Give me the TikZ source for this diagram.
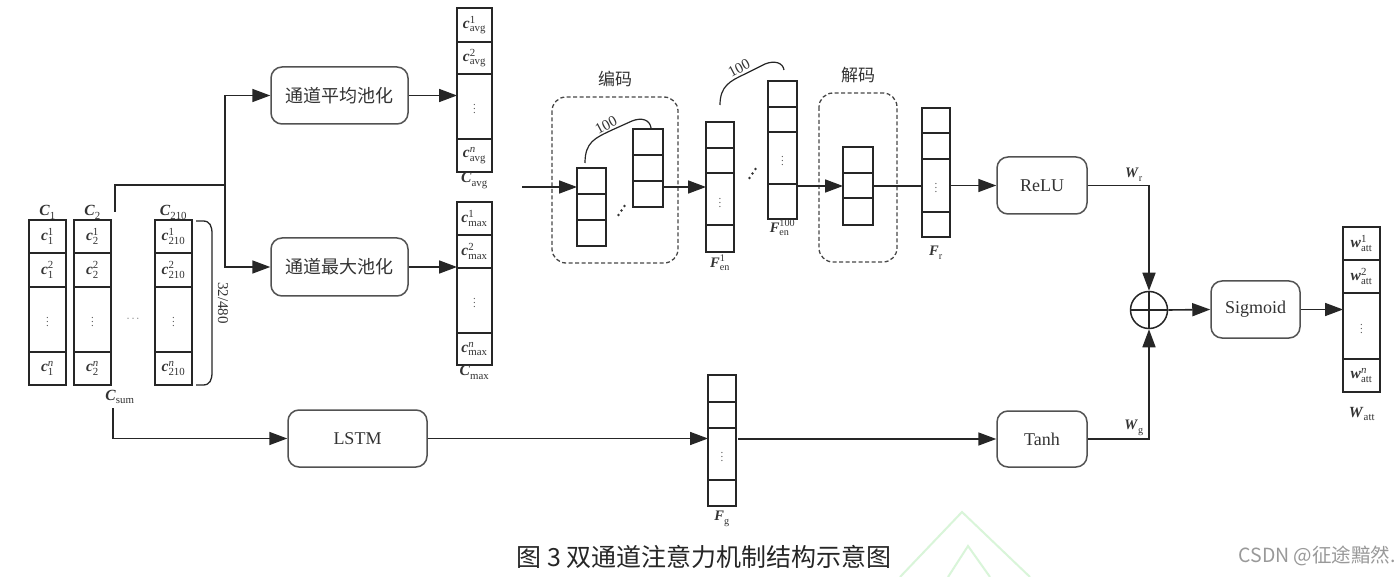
\documentclass[tikz,border=0pt]{standalone}
\usepackage{fontspec}
\usepackage{amsmath}
\setmainfont{Liberation Serif}
\newfontfamily\cjk{Noto Sans CJK SC}
\usetikzlibrary{arrows.meta,calc}
\newcommand{\vs}[3]{$\textbf{\textit{#1}}^{\text{#3}}_{\text{#2}}$}
\newcommand{\mycol}[6]{%
  \node[colbox, minimum width={(#4)-(#2)}, minimum height={(#5)-(#3)}] (#1) at ({((#2)+(#4))/2},{((#3)+(#5))/2}) {};
  \foreach \yy in {#6} {\draw[rowline] (#2,\yy) -- (#4,\yy);}
}
\definecolor{ln}{gray}{0.15}
\definecolor{txt}{gray}{0.2}
\definecolor{wm}{rgb}{0.85,0.96,0.85}
\tikzset{
  colbox/.style={draw=ln, line width=1.5pt, inner sep=0pt, outer sep=0pt},
  rowline/.style={draw=ln, line width=1.5pt},
  procbox/.style={draw=ln!80, line width=1.5pt, rounded corners=11pt, inner sep=0pt, text=txt, font=\fontsize{18}{20}\selectfont},
  cjkbox/.style={procbox, font=\cjk\fontsize{18}{20}\selectfont},
  dashbox/.style={draw=ln!85, line width=1.3pt, dash pattern=on 4pt off 2.5pt, rounded corners=14pt},
  conn/.style={draw=ln, line width=1.6pt},
  arr/.style={conn, -{Triangle[length=18pt,width=13pt]}},
  cell/.style={inner sep=0pt, text=txt, font=\fontsize{15.5}{17}\selectfont},
  dots/.style={inner sep=0pt, text=txt!80, font=\fontsize{11}{12}\selectfont},
  lab/.style={inner sep=0.5pt, text=txt, font=\fontsize{15.5}{17}\selectfont},
  flab/.style={inner sep=0.5pt, text=txt, font=\fontsize{14.5}{16}\selectfont},
  num/.style={inner sep=0pt, text=txt, font=\fontsize{15}{17}\selectfont},
  cjklab/.style={inner sep=0pt, text=txt, font=\cjk\fontsize{17}{19}\selectfont},
}
\begin{document}
\begin{tikzpicture}[x=1pt,y=-1pt]
\useasboundingbox[fill=white] (0,0) rectangle (1400,577);

% watermark
\draw[wm, line width=2pt] (900,577) -- (962,512) -- (1030,577);
\draw[wm, line width=2pt] (948,577) -- (968,546) -- (990,577);

% input columns
\mycol{c1}{29}{220}{66}{385}{253,287,352}
\mycol{c2}{74}{220}{111}{385}{253,287,352}
\mycol{c210}{155}{220}{192}{385}{253,287,352}
\node[cell] (c1a) at (47.5,236.5) {\vs{c}{1}{1}};
\node[cell] (c1b) at (47.5,270) {\vs{c}{1}{2}};
\node[dots] (c1c) at (47.5,319.5) {$\vdots$};
\node[cell] (c1d) at (47.5,368.5) {\vs{c}{1}{\textit{n}}};
\node[cell] (c2a) at (92.5,236.5) {\vs{c}{2}{1}};
\node[cell] (c2b) at (92.5,270) {\vs{c}{2}{2}};
\node[dots] (c2c) at (92.5,319.5) {$\vdots$};
\node[cell] (c2d) at (92.5,368.5) {\vs{c}{2}{\textit{n}}};
\node[cell] (c3a) at (173.5,236.5) {\vs{c}{210}{1}};
\node[cell] (c3b) at (173.5,270) {\vs{c}{210}{2}};
\node[dots] (c3c) at (173.5,319.5) {$\vdots$};
\node[cell] (c3d) at (173.5,368.5) {\vs{c}{210}{\textit{n}}};
\node[dots] (hd) at (134,319) {$\cdots$};
\node[lab, anchor=south] (lc1) at (c1.north) {\vs{C}{1}{}};
\node[lab, anchor=south] (lc2) at (c2.north) {\vs{C}{2}{}};
\node[lab, anchor=south] (lc3) at (c210.north) {\vs{C}{210}{}};
\node[lab] (lcs) at (120,397) {\vs{C}{sum}{}};
\draw[conn, line width=1.3pt] (196,221) -- (203,221) .. controls (210,221) and (212,226) .. (212,234) -- (212,372) .. controls (212,380) and (210,385) .. (203,385) -- (196,385);
\node[num, rotate=-90] (dim) at (223,303) {32/480};

% pooling branch
\node[cjkbox, minimum width=137, minimum height=57] (avgpool) at (339.5,95.5) {通道平均池化};
\node[cjkbox, minimum width=137, minimum height=58] (maxpool) at (339.5,267) {通道最大池化};
\coordinate (ct) at (115,212);
\coordinate (split) at (225,185);
\draw[conn] (ct) |- (split);
\draw[arr] (split) |- (avgpool.west);
\draw[arr] (split) |- (maxpool.west);

\mycol{avg}{457}{8}{492}{172}{42,74,139}
\node[cell] (a1) at (474.5,25) {\vs{c}{avg}{1}};
\node[cell] (a2) at (474.5,58) {\vs{c}{avg}{2}};
\node[dots] (a3) at (474.5,106.5) {$\vdots$};
\node[cell] (a4) at (474.5,155.5) {\vs{c}{avg}{\textit{n}}};
\node[lab, anchor=north] (lavg) at (avg.south) {\vs{C}{avg}{}};
\mycol{max}{457}{202}{492}{365}{235,268,333}
\node[cell] (m1) at (474.5,218.5) {\vs{c}{max}{1}};
\node[cell] (m2) at (474.5,251.5) {\vs{c}{max}{2}};
\node[dots] (m3) at (474.5,300.5) {$\vdots$};
\node[cell] (m4) at (474.5,349) {\vs{c}{max}{\textit{n}}};
\node[lab, anchor=north] (lmax) at (max.south) {\vs{C}{max}{}};
\draw[arr] (avgpool.east) -- (avgpool.east -| avg.west);
\draw[arr] (maxpool.east) -- (maxpool.east -| max.west);

% encoder
\draw[dashbox] (552,97) rectangle (678,263);
\node[cjklab] (enc) at (615,79) {编码};
\mycol{e1}{577}{168}{606}{246}{194,220}
\mycol{e2}{633}{129}{663}{207}{155,181}
\fill[txt] (618.5,215) circle (1.3) (621.5,210.5) circle (1.3) (624.5,206) circle (1.3);
\draw[conn, line width=1.2pt] (585,163) .. controls (585,142) and (595,138) .. (612,130) -- (632,121) .. controls (642,117) and (650,120) .. (651,128);
\node[num, rotate=28] (n1) at (606,125) {100};
\coordinate (encin) at (522,187);
\draw[arr] (encin) -- (encin -| e1.west);

\mycol{fen1}{706}{122}{734}{252}{148,173,225}
\node[dots] (f1d) at (720,200) {$\vdots$};
\node[flab, anchor=north] (lf1) at ($(fen1.south)+(0,2)$) {\vs{F}{en}{1}};
\draw[arr] (encin -| e2.east) -- (encin -| fen1.west);
\mycol{fen100}{768}{81}{797}{219}{107,132,184}
\node[dots] (f2d) at (782.5,158) {$\vdots$};
\node[flab, anchor=north] (lf2) at ($(fen100.south)+(0,0)$) {\vs{F}{en}{100}};
\fill[txt] (749.5,178) circle (1.3) (752.5,173.5) circle (1.3) (755.5,169) circle (1.3);
\draw[conn, line width=1.2pt] (720,105) .. controls (720,86) and (730,81) .. (745,74) -- (765,64) .. controls (775,60) and (783,63) .. (784,70);
\node[num, rotate=28] (n2) at (739,68) {100};

% decoder
\draw[dashbox] (819,93) rectangle (897,262);
\node[cjklab] (dec) at (858,75) {解码};
\mycol{d1}{843}{147}{873}{225}{173,198}
\draw[arr] (fen100.east |- d1.west) -- (d1.west);
\mycol{fr}{922}{108}{950}{237}{133,159,212}
\node[dots] (frd) at (936,185.5) {$\vdots$};
\node[flab] (lfr) at (936,253) {\vs{F}{r}{}};
\draw[conn] (d1.east) -- (d1.east -| fr.west);

% activations
\node[procbox, minimum width=90, minimum height=57] (relu) at (1042,185.5) {ReLU};
\node[procbox, minimum width=90, minimum height=56] (tanh) at (1042,439) {Tanh};
\node[procbox, minimum width=89, minimum height=57] (sigmoid) at (1255.5,309.5) {Sigmoid};
\node[draw=ln, line width=1.5pt, circle, minimum size=37, inner sep=0pt] (sum) at (1149,310) {};
\draw[line width=1.3pt, ln] (sum.north) -- (sum.south) (sum.west) -- (sum.east);
\draw[arr] (relu.west -| fr.east) -- (relu.west);
\draw[arr] (relu.east) -| (sum.north);
\draw[arr] (tanh.east) -| (sum.south);
\draw[arr] (sum.east) -- (sigmoid.west);
\node[flab, anchor=south] (lwr) at (1134,182) {\vs{W}{r}{}};
\node[flab, anchor=south] (lwg) at (1134,436) {\vs{W}{g}{}};

\mycol{watt}{1343}{227}{1380}{392}{260,293,359}
\node[cell] (w1) at (1361.5,243.5) {\vs{w}{att}{1}};
\node[cell] (w2) at (1361.5,276.5) {\vs{w}{att}{2}};
\node[dots] (w3) at (1361.5,326) {$\vdots$};
\node[cell] (w4) at (1361.5,375.5) {\vs{w}{att}{\textit{n}}};
\node[lab] (lwatt) at (1362,414) {\vs{W}{att}{}};
\draw[arr] (sigmoid.east) -- (sigmoid.east -| watt.west);

% LSTM branch
\node[procbox, minimum width=139, minimum height=57] (lstm) at (357.5,438.5) {LSTM};
\coordinate (cs) at (113,408);
\draw[arr] (cs) |- (lstm.west);
\mycol{fg}{708}{375}{736}{506}{402,428,480}
\node[dots] (fgd) at (722,454) {$\vdots$};
\node[flab] (lfg) at (722,519) {\vs{F}{g}{}};
\draw[arr] (lstm.east) -- (lstm.east -| fg.west);
\draw[arr] ($(tanh.west -| fg.east)+(2,0)$) -- (tanh.west);

% caption
\node[inner sep=0pt, font=\cjk\fontsize{25}{27}\selectfont, text=black!85] (cap) at (704,557) {图 3 双通道注意力机制结构示意图};
\node[inner sep=0pt, font=\cjk\fontsize{19.5}{21}\selectfont, text=black!40, anchor=east] (wmk) at (1396,556) {CSDN @征途黯然.};
\end{tikzpicture}
\end{document}
